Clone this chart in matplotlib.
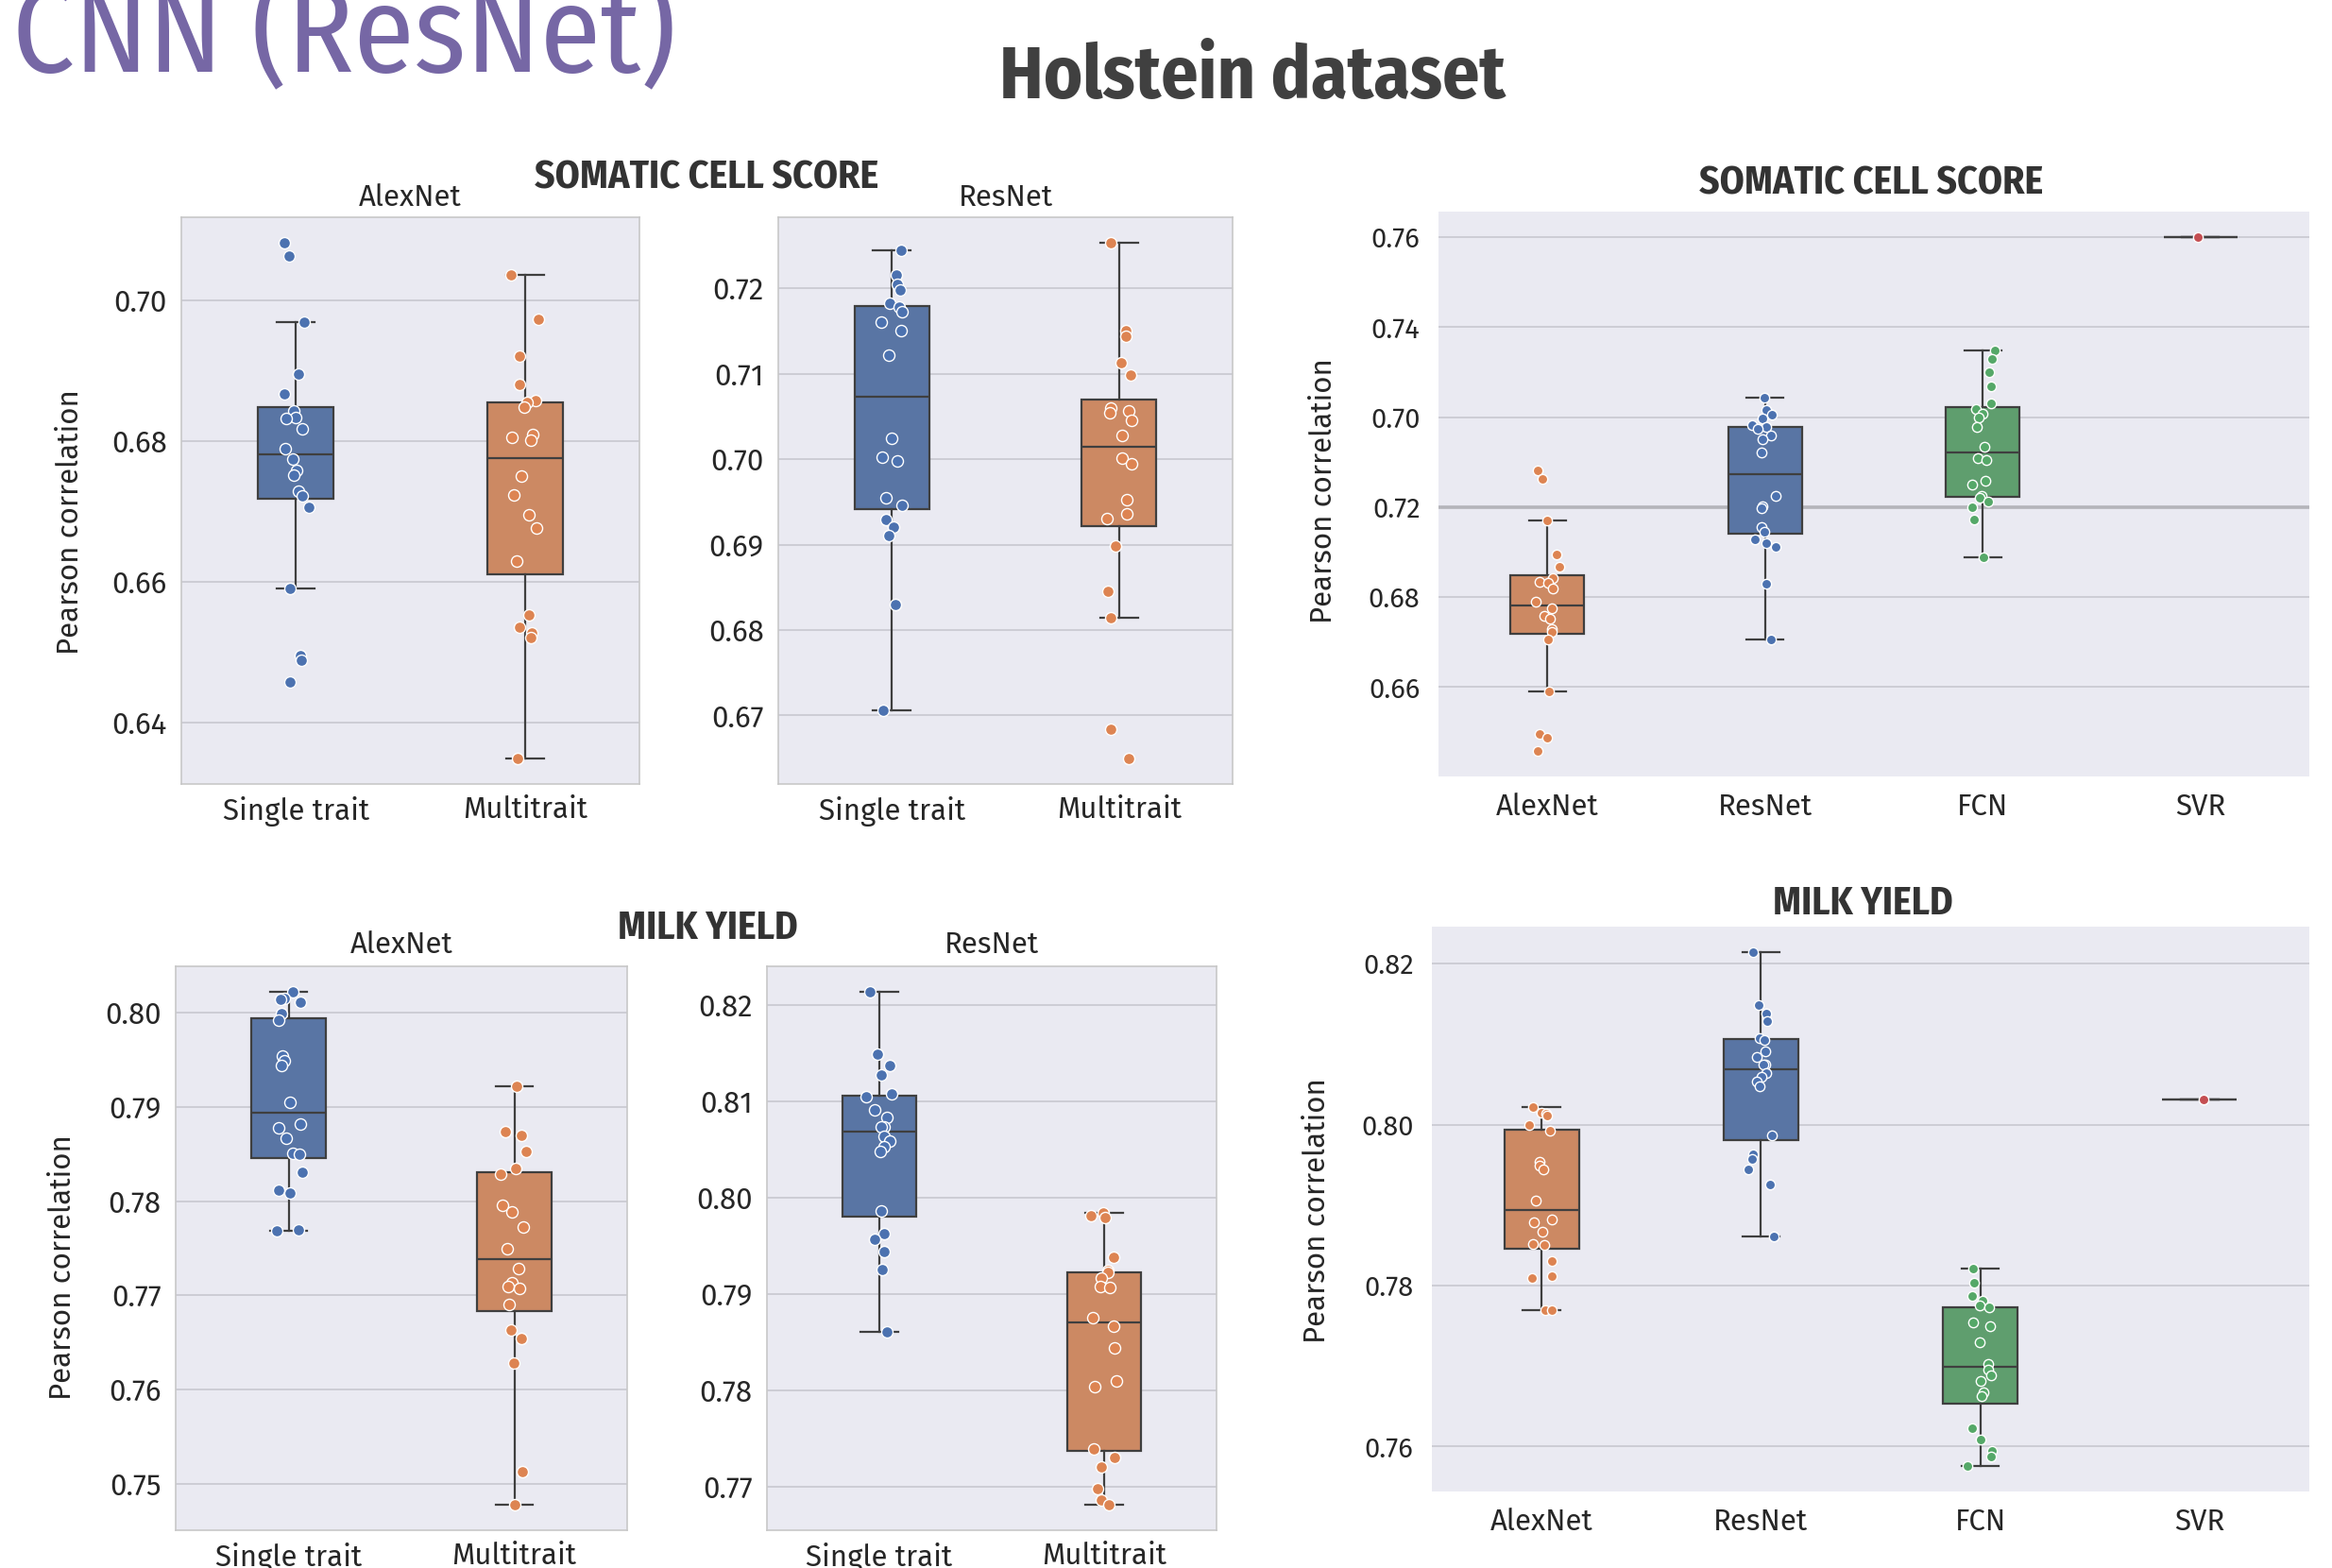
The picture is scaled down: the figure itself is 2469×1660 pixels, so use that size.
import numpy as np
import matplotlib
matplotlib.use("Agg")
import matplotlib.pyplot as plt
from matplotlib import font_manager
from matplotlib.ticker import MultipleLocator, FixedLocator, FormatStrFormatter

# ---- data ----
groups = ["Single trait", "Multitrait"]
models = ["AlexNet", "ResNet", "FCN", "SVR"]

scs_alex_single = [0.7082, 0.7063, 0.6970, 0.6895, 0.6867, 0.6843, 0.6834, 0.6832, 0.6818, 0.6789,
                   0.6774, 0.6759, 0.6752, 0.6729, 0.6722, 0.6706, 0.6590, 0.6495, 0.6488, 0.6458]
scs_alex_multi = [0.7037, 0.6973, 0.6921, 0.6881, 0.6858, 0.6855, 0.6848, 0.6809, 0.6805, 0.6802,
                  0.6751, 0.6723, 0.6696, 0.6676, 0.6630, 0.6553, 0.6536, 0.6527, 0.6521, 0.6349]
scs_res_single = [0.7244, 0.7216, 0.7205, 0.7198, 0.7182, 0.7178, 0.7173, 0.7160, 0.7151, 0.7122,
                  0.7024, 0.7002, 0.6998, 0.6955, 0.6946, 0.6929, 0.6920, 0.6911, 0.6830, 0.6706]
scs_res_multi = [0.7253, 0.7151, 0.7144, 0.7113, 0.7098, 0.7060, 0.7056, 0.7054, 0.7045, 0.7028,
                 0.7001, 0.6995, 0.6953, 0.6936, 0.6930, 0.6898, 0.6845, 0.6814, 0.6684, 0.6650]
scs_fcn = [0.7348, 0.7330, 0.7299, 0.7269, 0.7230, 0.7219, 0.7207, 0.7200, 0.7179, 0.7133,
           0.7109, 0.7104, 0.7059, 0.7051, 0.7024, 0.7021, 0.7012, 0.7000, 0.6973, 0.6888]
scs_svr = [0.7600]

my_alex_single = [0.8022, 0.8015, 0.8014, 0.8011, 0.7999, 0.7992, 0.7954, 0.7949, 0.7944, 0.7905,
                  0.7882, 0.7878, 0.7867, 0.7851, 0.7850, 0.7831, 0.7812, 0.7809, 0.7770, 0.7769]
my_alex_multi = [0.7922, 0.7874, 0.7870, 0.7853, 0.7835, 0.7829, 0.7796, 0.7789, 0.7773, 0.7749,
                 0.7728, 0.7713, 0.7709, 0.7707, 0.7690, 0.7663, 0.7654, 0.7628, 0.7513, 0.7478]
my_res_single = [0.8214, 0.8149, 0.8138, 0.8128, 0.8108, 0.8105, 0.8091, 0.8084, 0.8074, 0.8074,
                 0.8064, 0.8059, 0.8053, 0.8048, 0.7986, 0.7963, 0.7957, 0.7944, 0.7925, 0.7861]
my_res_multi = [0.7984, 0.7981, 0.7979, 0.7938, 0.7924, 0.7922, 0.7917, 0.7908, 0.7907, 0.7875,
                0.7866, 0.7844, 0.7810, 0.7804, 0.7739, 0.7730, 0.7720, 0.7698, 0.7686, 0.7681]
my_fcn = [0.7821, 0.7804, 0.7787, 0.7781, 0.7775, 0.7773, 0.7754, 0.7749, 0.7730, 0.7703,
          0.7696, 0.7688, 0.7681, 0.7667, 0.7663, 0.7623, 0.7609, 0.7595, 0.7587, 0.7576]
my_svr = [0.8031]

# tick labels of the top right panel, as printed in the reference
scs_right_ticks = [0.66, 0.68, 0.70, 0.72, 0.74, 0.76]
scs_right_ticklabels = ["0.66", "0.68", "0.72", "0.70", "0.74", "0.76"]

# ---- style ----
W, H = 2469, 1660
DPI = 100
BLUE, ORANGE, GREEN, RED = "#4C72B0", "#DD8452", "#55A868", "#C44E52"
BOX = {BLUE: "#5975A4", ORANGE: "#CC8963", GREEN: "#5F9E6E", RED: "#B55D60"}
LINE = "#3F3F3F"
BG = "#EAEAF2"
TXT = "#262626"

installed = {f.name for f in font_manager.fontManager.ttflist}


def first_font(cands):
    for c in cands:
        if c in installed:
            return c
    return "DejaVu Sans"


body_font = first_font(["Fira Sans", "Open Sans", "Noto Sans"])
narrow_font = first_font(["Fira Sans Condensed", "Roboto Condensed", "Liberation Sans Narrow"])
narrow_ok = narrow_font != "DejaVu Sans"
body_size = 22.5 if body_font != "DejaVu Sans" else 20.5
tick_size = 21 if body_font != "DejaVu Sans" else 19.5

plt.rcParams["font.family"] = [body_font, "DejaVu Sans"]


def rect(x0, y0, x1, y1):
    return [x0 / W, 1 - y1 / H, (x1 - x0) / W, (y1 - y0) / H]


rng = np.random.default_rng(3)


def box_strip(ax, series, colors, width, size):
    pos = list(range(len(series)))
    bp = ax.boxplot(series, positions=pos, widths=width, patch_artist=True, showfliers=False,
                    medianprops=dict(color=LINE, lw=1.6), boxprops=dict(edgecolor=LINE, lw=1.6),
                    whiskerprops=dict(color=LINE, lw=1.6), capprops=dict(color=LINE, lw=1.6))
    for patch, c in zip(bp["boxes"], colors):
        patch.set_facecolor(BOX[c])
    for i, (vals, c) in enumerate(zip(series, colors)):
        xs = i + rng.uniform(-0.06, 0.06, len(vals))
        ax.scatter(xs, vals, s=size, color=c, edgecolors="white", linewidths=1.0, zorder=3)
    ax.set_xlim(-0.5, len(series) - 0.5)
    ax.set_facecolor(BG)
    ax.set_axisbelow(True)
    ax.grid(axis="y", color="#CACAD2", lw=1.3)
    ax.grid(axis="x", visible=False)


def small_panel(r, series, title, step, title_pad, ylabel_pos=None):
    ax = fig.add_axes(rect(*r))
    box_strip(ax, series, [BLUE, ORANGE], 0.33, 75)
    ax.set_xticks([0, 1])
    ax.set_xticklabels(groups)
    ax.yaxis.set_major_locator(MultipleLocator(step))
    ax.yaxis.set_major_formatter(FormatStrFormatter("%.2f"))
    ax.tick_params(axis="y", length=0, pad=11, labelsize=body_size, labelcolor=TXT)
    ax.tick_params(axis="x", length=0, pad=9, labelsize=body_size, labelcolor=TXT)
    ax.set_title(title, fontsize=body_size, color=TXT, pad=title_pad)
    for sp in ax.spines.values():
        sp.set_color("#C8C8C8")
        sp.set_linewidth(1.2)
    if ylabel_pos is not None:
        ax.set_ylabel("Pearson correlation", fontsize=body_size, color=TXT, va="center")
        ax.yaxis.set_label_coords(*ylabel_pos)
    return ax


def big_panel(r, series, ylabel_pos):
    ax = fig.add_axes(rect(*r))
    box_strip(ax, series, [ORANGE, BLUE, GREEN, RED], 0.34, 55)
    ax.set_xticks(range(len(models)))
    ax.set_xticklabels(models)
    ax.tick_params(axis="y", length=0, pad=14, labelsize=tick_size, labelcolor=TXT)
    ax.tick_params(axis="x", length=0, pad=12, labelsize=body_size, labelcolor=TXT)
    for sp in ax.spines.values():
        sp.set_visible(False)
    ax.set_ylabel("Pearson correlation", fontsize=body_size, color=TXT, va="center")
    ax.yaxis.set_label_coords(*ylabel_pos)
    return ax


fig = plt.figure(figsize=(W / DPI, H / DPI), dpi=DPI)
fig.patch.set_facecolor("white")

# top row: somatic cell score
small_panel((192, 230, 677, 830), [scs_alex_single, scs_alex_multi], "AlexNet", 0.02, 9, (-0.243, 0.462))
small_panel((824, 230, 1305, 830), [scs_res_single, scs_res_multi], "ResNet", 0.01, 9)
ax3 = big_panel((1523, 224, 2445, 822), [scs_alex_single, scs_res_single, scs_fcn, scs_svr], (-0.132, 0.505))
ax3.yaxis.set_major_locator(FixedLocator(scs_right_ticks))
ax3.set_yticklabels(scs_right_ticklabels)
for t, gl in zip(scs_right_ticks, ax3.get_ygridlines()):
    if abs(t - 0.70) < 1e-9:
        gl.set_linewidth(2.6)
        gl.set_color("#B4B4BA")

# bottom row: milk yield
small_panel((186, 1023, 664, 1620), [my_alex_single, my_alex_multi], "AlexNet", 0.01, 10, (-0.251, 0.467))
small_panel((812, 1023, 1288, 1620), [my_res_single, my_res_multi], "ResNet", 0.01, 10)
ax6 = big_panel((1516, 981, 2445, 1579), [my_alex_single, my_res_single, my_fcn, my_svr], (-0.131, 0.497))
ax6.yaxis.set_major_locator(MultipleLocator(0.02))
ax6.yaxis.set_major_formatter(FormatStrFormatter("%.2f"))

# headings
cnn_size = 93 if narrow_ok else 73
head_size = 56 if narrow_ok else 42
sec_size = 30 if narrow_ok else 23
head_family = [narrow_font, "DejaVu Sans"]

fig.text(13 / W, 1 - 76 / H, "CNN (ResNet)", fontsize=cnn_size, color="#7667A5",
         family=head_family, ha="left", va="baseline")
fig.text(1326 / W, 1 - 104 / H, "Holstein dataset", fontsize=head_size, color="#404040",
         family=head_family, fontweight="bold", ha="center", va="baseline")
fig.text(748 / W, 1 - 200 / H, "SOMATIC CELL SCORE", fontsize=sec_size, color="#333333",
         family=head_family, fontweight="bold", ha="center", va="baseline")
fig.text(1981 / W, 1 - 205 / H, "SOMATIC CELL SCORE", fontsize=sec_size, color="#333333",
         family=head_family, fontweight="bold", ha="center", va="baseline")
fig.text(749 / W, 1 - 994 / H, "MILK YIELD", fontsize=sec_size, color="#333333",
         family=head_family, fontweight="bold", ha="center", va="baseline")
fig.text(1972 / W, 1 - 968 / H, "MILK YIELD", fontsize=sec_size, color="#333333",
         family=head_family, fontweight="bold", ha="center", va="baseline")

fig.savefig("out.png", dpi=DPI)
